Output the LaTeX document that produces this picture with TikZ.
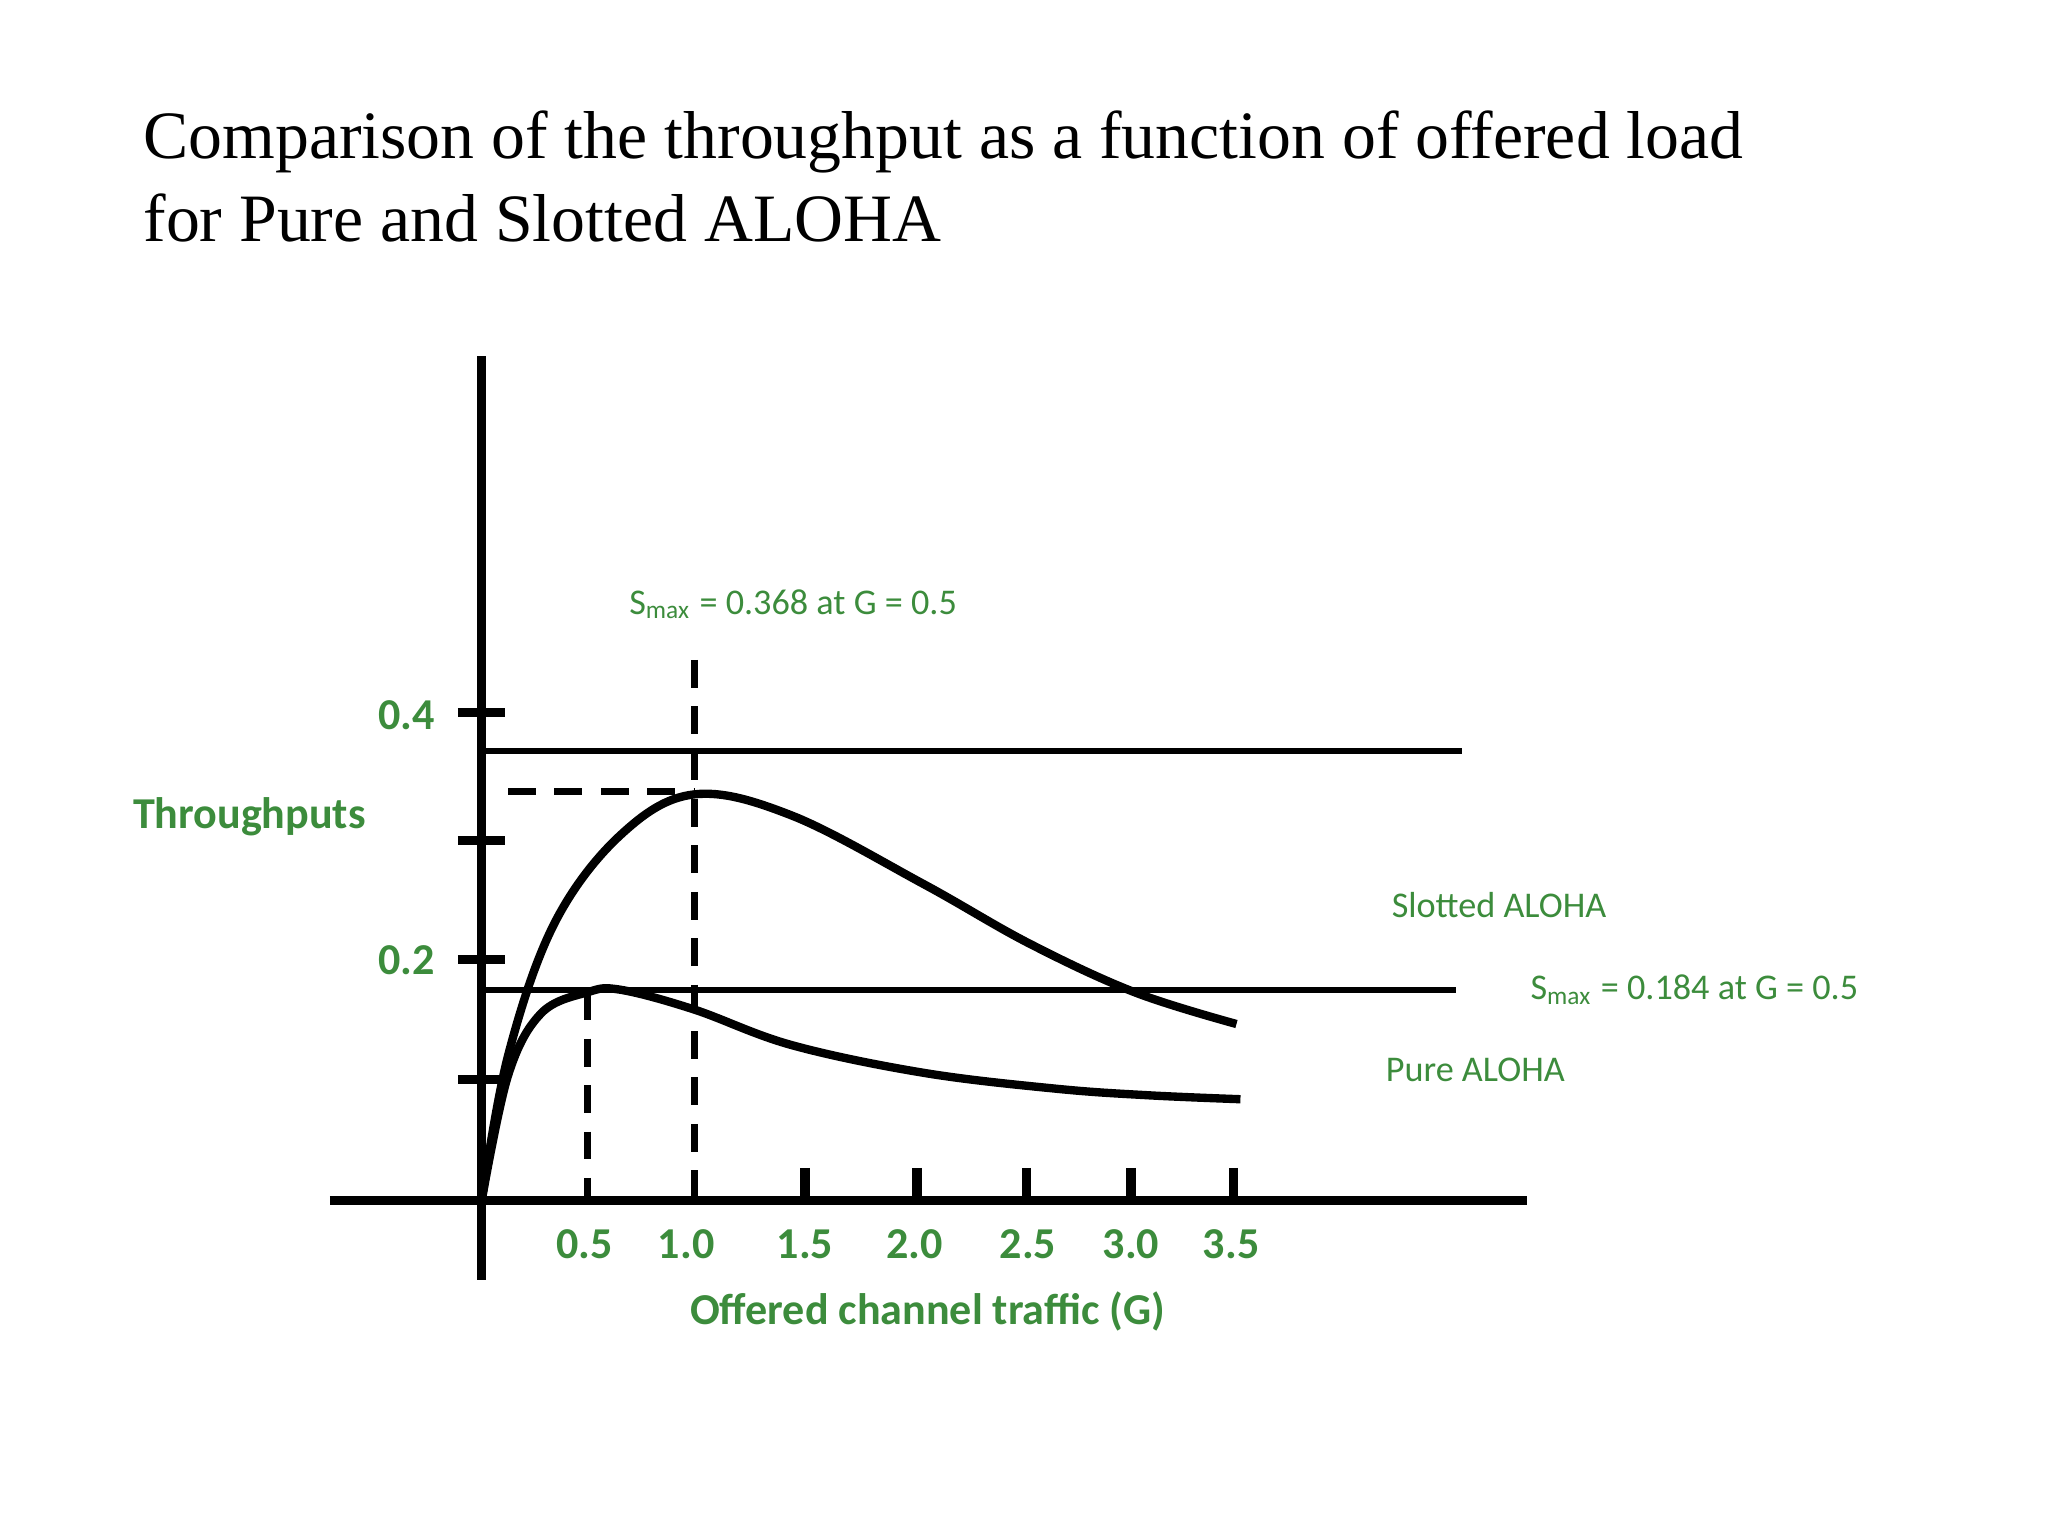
\documentclass[tikz,border=0pt]{standalone}
\usepackage{fontspec}
\setmainfont{Liberation Serif}
\newfontfamily\lab{Carlito}
\definecolor{gr}{RGB}{60,140,60}
\begin{document}
\begin{tikzpicture}[x=0.01cm,y=-0.01cm,
  ax/.style={line width=2pt},
  thin/.style={line width=1.3pt},
  dsh/.style={line width=1.5pt,dash pattern=on 6pt off 4pt},
  crv/.style={line width=1.8pt},
  gl/.style={text=gr,font=\lab\fontsize{9.5}{11}\selectfont\bfseries},
  sl/.style={text=gr,font=\lab\fontsize{7.8}{9}\selectfont}]
\useasboundingbox (0,0) rectangle (1552,1164);
\node[anchor=base west,inner sep=0,font=\fontsize{14.6}{16}\selectfont] (t1) at (108,120) {Comparison of the throughput as a function of offered load};
\node[anchor=base west,inner sep=0,font=\fontsize{14.6}{16}\selectfont] (t2) at (108,183) {for Pure and Slotted ALOHA};
% axes
\coordinate (ya) at (365,270); \coordinate (yb) at (365,970);
\coordinate (xa) at (250,910); \coordinate (xb) at (1157,910);
\draw[ax] (ya)--(yb); \draw[ax] (xa)--(xb);
\foreach \y in {540,637,727,818} \draw[ax] (347,\y)--(383,\y);
\foreach \x in {610,695,778,857,935} \draw[ax] (\x,885)--(\x,910);
% reference lines
\draw[thin] (365,569)--(1108,569);
\draw[thin] (365,750)--(1103,750);
\draw[dsh] (526,500)--(526,910);
\draw[dsh] (385,600)--(526,600);
\draw[dsh] (445,752)--(445,910);
% curves
\draw[crv] plot[smooth,tension=0.6] coordinates{(365,910)(385,800)(420,700)(470,633)(526,602)(600,618)(700,670)(780,715)(860,752)(937,776)};
\draw[crv] plot[smooth,tension=0.6] coordinates{(365,910)(385,815)(410,768)(445,752)(470,750)(526,765)(600,792)(700,813)(800,825)(870,830)(940,833)};
% labels
\node[gl] (l4) at (308,542) {0.4};
\node[gl] (l2) at (308,728) {0.2};
\node[gl] (tp) at (189,619) {Throughputs};
\foreach \x/\t in {443/0.5,520/1.0,610/1.5,693/2.0,779/2.5,857/3.0,933/3.5} \node[gl] at (\x,943) {\t};
\node[gl] (xl) at (703,994) {Offered channel traffic (G)};
\node[sl] (s1) at (601,458) {S\textsubscript{max} = 0.368 at G = 0.5};
\node[sl] (s2) at (1284,750) {S\textsubscript{max} = 0.184 at G = 0.5};
\node[sl] (sa) at (1136,686) {Slotted ALOHA};
\node[sl] (pa) at (1118,811) {Pure ALOHA};
\end{tikzpicture}
\end{document}
